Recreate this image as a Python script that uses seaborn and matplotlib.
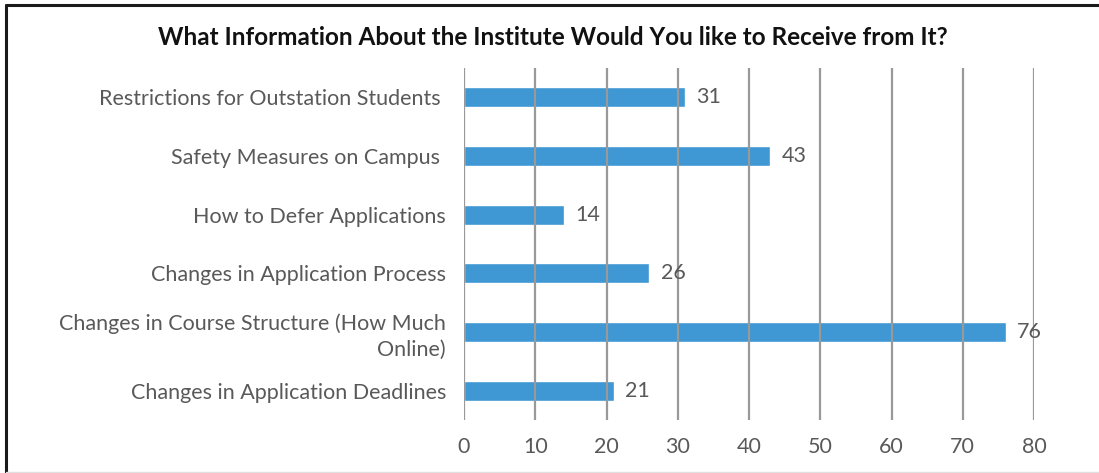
import pandas as pd
import matplotlib.pyplot as plt
import seaborn as sns
from matplotlib.lines import Line2D

# === Hardcoded data ===
categories = [
    "Restrictions for Outstation Students ",
    "Safety Measures on Campus ",
    "How to Defer Applications",
    "Changes in Application Process",
    "Changes in Course Structure (How Much\nOnline)",
    "Changes in Application Deadlines",
]
counts = [31, 43, 14, 26, 76, 21]
x_ticks = [0, 10, 20, 30, 40, 50, 60, 70, 80]

df = pd.DataFrame({"Topic": categories, "Count": counts})

# === Style ===
sns.set_style("white")
plt.rcParams["font.family"] = ["Lato", "DejaVu Sans"]
bar_color = "#3f97d3"
text_gray = "#595959"
grid_gray = "#999999"
fs = 15.5

fig = plt.figure(figsize=(10.99, 4.73), dpi=100)
ax = fig.add_axes([0.4222, 0.1121, 0.9409 - 0.4222, 0.8562 - 0.1121])

sns.barplot(data=df, x="Count", y="Topic", ax=ax, color=bar_color,
            saturation=1, width=0.34, zorder=1)

ax.set_xlim(0, 80)
ax.set_ylim(5.5, -0.5)
ax.set_xticks(x_ticks)
for xv in x_ticks:
    ax.axvline(xv, color=grid_gray, lw=1.6, zorder=3)

for i, v in enumerate(counts):
    ax.text(v + 1.6, i, str(v), va="center", ha="left",
            fontsize=fs, color=text_gray, zorder=4)

ax.set_xlabel("")
ax.set_ylabel("")
for s in ax.spines.values():
    s.set_visible(False)
ax.tick_params(axis="y", length=0, pad=13, labelsize=fs, labelcolor=text_gray)
ax.tick_params(axis="x", length=0, pad=12, labelsize=fs, labelcolor=text_gray)
for lbl in ax.get_yticklabels():
    lbl.set_horizontalalignment("right")
    lbl.set_multialignment("right")
    lbl.set_linespacing(1.35)

fig.text(0.503, 0.92, "What Information About the Institute Would You like to Receive from It?",
         ha="center", va="center", fontsize=17.5, fontweight="bold", color="#111111")

# frame lines (left and top) like the source image
fig.add_artist(Line2D([6 / 1099, 6 / 1099], [0, 1 - 5 / 473], transform=fig.transFigure,
                      color="#1a1a1a", lw=2.2))
fig.add_artist(Line2D([6 / 1099, 1], [1 - 5 / 473, 1 - 5 / 473], transform=fig.transFigure,
                      color="#1a1a1a", lw=2.2))
fig.add_artist(Line2D([6 / 1099, 1], [1 / 473, 1 / 473], transform=fig.transFigure,
                      color="#e0e0e0", lw=1))

fig.savefig("out.png", dpi=100)
